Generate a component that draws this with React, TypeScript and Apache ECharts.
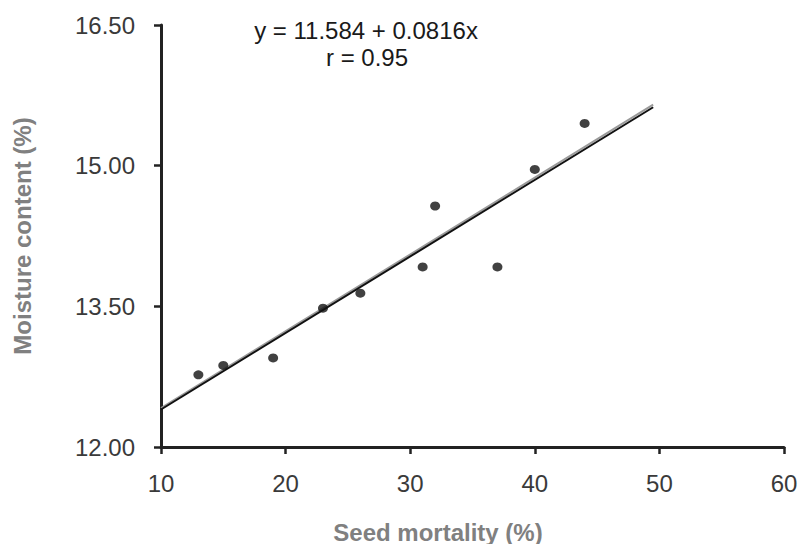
import React, { useEffect, useRef } from "react";
import * as echarts from "echarts";

const mortality = [13, 15, 19, 23, 26, 31, 32, 37, 40, 44];
const moisture = [12.77, 12.87, 12.95, 13.48, 13.64, 13.92, 14.57, 13.92, 14.96, 15.45];
const fitLine = [[10, 12.4], [49.5, 15.623]];
const fitLineShadow = [[10, 12.415], [49.5, 15.65]];
const xTitle = "Seed mortality (%)";
const yTitle = "Moisture content (%)";
const equationText = "y = 11.584 + 0.0816x";
const rText = "r = 0.95";

export default function App() {
  const ref = useRef<HTMLDivElement>(null);
  useEffect(() => {
    if (!ref.current) return;
    const chart = echarts.init(ref.current, null, { renderer: "svg" });
    const axisLine = { show: true, lineStyle: { color: "#222", width: 3 } };
    const labelStyle = { color: "#3a3a3a", fontSize: 24, fontFamily: "Liberation Sans, Arial, sans-serif" };
    chart.setOption({
      animation: false,
      backgroundColor: "#ffffff",
      grid: { left: 161, right: 18, top: 25, bottom: 97 },
      xAxis: {
        type: "value",
        min: 10,
        max: 60,
        interval: 10,
        axisLine,
        axisTick: { show: true, inside: false, length: 7, lineStyle: { color: "#222", width: 2.5 } },
        axisLabel: { ...labelStyle, margin: 24 },
        splitLine: { show: false },
      },
      yAxis: {
        type: "value",
        min: 12,
        max: 16.5,
        interval: 1.5,
        axisLine,
        axisTick: { show: true, inside: false, length: 7, lineStyle: { color: "#222", width: 2.5 } },
        axisLabel: { ...labelStyle, margin: 26, formatter: (v: number) => v.toFixed(2) },
        splitLine: { show: false },
      },
      graphic: [
        {
          type: "text",
          x: 438,
          y: 532,
          style: {
            text: xTitle,
            fill: "#808080",
            font: "bold 24px 'Liberation Sans', Arial, sans-serif",
            textAlign: "center",
            textVerticalAlign: "middle",
          },
        },
        {
          type: "text",
          x: 22,
          y: 236,
          rotation: Math.PI / 2,
          style: {
            text: yTitle,
            fill: "#808080",
            font: "bold 24px 'Liberation Sans', Arial, sans-serif",
            textAlign: "center",
            textVerticalAlign: "middle",
          },
        },
        {
          type: "text",
          x: 366,
          y: 30,
          style: {
            text: equationText,
            fill: "#1a1a1a",
            font: "24px 'Liberation Sans', Arial, sans-serif",
            textAlign: "center",
            textVerticalAlign: "middle",
          },
        },
        {
          type: "text",
          x: 367,
          y: 57,
          style: {
            text: rText,
            fill: "#1a1a1a",
            font: "24px 'Liberation Sans', Arial, sans-serif",
            textAlign: "center",
            textVerticalAlign: "middle",
          },
        },
      ],
      series: [
        {
          type: "line",
          data: fitLineShadow,
          symbol: "none",
          lineStyle: { color: "#9a9a9a", width: 2 },
          z: 2,
        },
        {
          type: "line",
          data: fitLine,
          symbol: "none",
          lineStyle: { color: "#111", width: 2 },
          z: 3,
        },
        {
          type: "scatter",
          data: mortality.map((m, i) => [m, moisture[i]]),
          symbol: "circle",
          symbolSize: [10, 9],
          itemStyle: { color: "#111" },
          z: 4,
        },
      ],
    });
    return () => chart.dispose();
  }, []);
  return (
    <div
      ref={ref}
      style={{ position: "fixed", left: 0, top: 0, width: 802, height: 544, background: "#fff" }}
    />
  );
}
